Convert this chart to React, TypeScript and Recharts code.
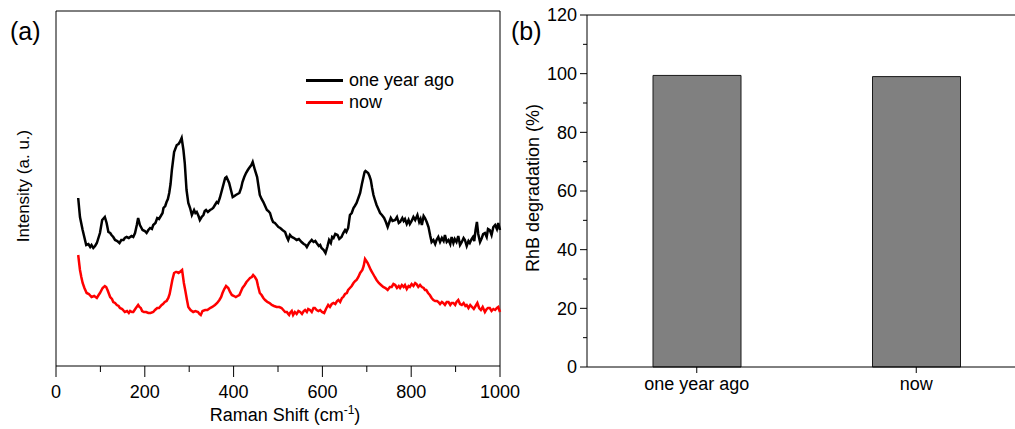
import React from "react";
import { LineChart, Line, XAxis, YAxis, ReferenceLine, Legend, BarChart, Bar } from "recharts";

// (a) Raman spectra, intensity in arbitrary units
const blackShift = [
  50, 54, 60, 68, 73, 77, 80, 84, 88, 92, 99, 104, 110, 114, 118, 122, 125, 129, 133, 138, 143, 147, 152, 155, 159,
  164, 170, 174, 178, 182, 185, 189, 195, 200, 204, 208, 212, 216, 219, 224, 228, 232, 236, 240, 242, 246, 249, 252,
  255, 258, 261, 266, 272, 276, 279, 283, 287, 290, 294, 298, 302, 306, 311, 314, 317, 321, 324, 328, 332, 335, 338,
  342, 347, 351, 354, 358, 362, 365, 369, 375, 381, 384, 390, 394, 398, 402, 405, 409, 413, 417, 420, 424, 428, 432,
  435, 440, 443, 448, 453, 456, 459, 463, 467, 471, 475, 478, 482, 486, 489, 493, 497, 501, 505, 510, 516, 520, 523,
  527, 531, 536, 542, 547, 553, 558, 562, 565, 570, 576, 580, 584, 587, 592, 595, 598, 603, 607, 611, 615, 619, 622,
  625, 629, 634, 638, 643, 647, 651, 654, 658, 662, 666, 670, 673, 677, 681, 685, 689, 692, 695, 697, 700, 703, 706,
  709, 712, 715, 719, 722, 726, 730, 734, 739, 743, 747, 750, 754, 758, 764, 768, 772, 775, 780, 783, 786, 790, 794,
  797, 801, 805, 809, 814, 818, 821, 824, 828, 831, 835, 839, 843, 846, 850, 854, 857, 861, 865, 869, 873, 876, 880,
  884, 888, 891, 895, 898, 902, 906, 910, 914, 918, 921, 925, 929, 932, 936, 939, 942, 945, 948, 951, 955, 959, 962,
  966, 970, 973, 977, 981, 985, 989, 993, 996, 1000,
];
const blackIntensity = [
  168, 149, 136, 121, 122, 119, 121, 118, 120, 123, 133, 146, 149, 143, 134, 133, 131, 129, 126, 125, 123, 126, 126,
  128, 129, 128, 130, 129, 133, 141, 148, 141, 136, 135, 133, 136, 138, 137, 141, 143, 148, 147, 150, 153, 158, 160,
  164, 167, 173, 182, 196, 214, 221, 222, 224, 228, 216, 203, 176, 163, 158, 151, 156, 153, 154, 150, 146, 149, 151,
  155, 156, 154, 156, 157, 158, 161, 164, 163, 168, 178, 188, 189, 183, 176, 169, 170, 171, 172, 173, 178, 184, 189,
  193, 196, 198, 201, 204, 196, 189, 180, 171, 167, 164, 160, 156, 155, 153, 147, 144, 143, 141, 139, 138, 136, 134,
  129, 126, 131, 129, 128, 126, 127, 124, 122, 121, 119, 123, 126, 124, 125, 123, 120, 121, 118, 116, 113, 119, 126,
  123, 129, 128, 132, 131, 127, 129, 133, 136, 134, 138, 151, 153, 158, 160, 163, 168, 173, 182, 188, 194, 195, 194,
  193, 190, 186, 178, 171, 165, 161, 157, 153, 151, 148, 144, 139, 143, 148, 145, 146, 149, 143, 144, 148, 145, 147,
  142, 146, 142, 145, 149, 146, 151, 144, 147, 141, 150, 148, 144, 139, 130, 124, 126, 122, 126, 129, 124, 128, 125,
  131, 124, 126, 122, 129, 123, 127, 124, 130, 121, 124, 128, 126, 120, 125, 123, 127, 129, 125, 136, 144, 132, 124,
  128, 132, 133, 129, 137, 136, 131, 139, 141, 137, 143, 136,
];
const redShift = [
  50, 54, 57, 60, 64, 69, 74, 80, 86, 92, 96, 99, 105, 110, 113, 116, 122, 126, 129, 133, 137, 141, 144, 149, 155,
  160, 164, 167, 171, 174, 177, 180, 185, 188, 191, 194, 198, 203, 208, 213, 219, 223, 228, 232, 238, 241, 245, 249,
  253, 256, 259, 262, 266, 270, 272, 276, 279, 284, 288, 291, 295, 298, 303, 309, 314, 320, 323, 326, 330, 336, 341,
  347, 352, 358, 363, 368, 372, 375, 379, 383, 388, 392, 396, 401, 405, 409, 413, 417, 420, 425, 429, 433, 437, 441,
  444, 448, 452, 455, 459, 463, 467, 471, 476, 481, 486, 491, 497, 503, 508, 512, 516, 520, 523, 525, 527, 531, 534,
  538, 542, 546, 550, 554, 558, 561, 565, 568, 572, 576, 580, 583, 587, 591, 595, 599, 604, 608, 613, 617, 621, 625,
  629, 633, 636, 640, 644, 647, 651, 655, 658, 662, 666, 670, 674, 677, 681, 685, 690, 693, 696, 699, 702, 705, 709,
  713, 718, 722, 727, 732, 737, 742, 747, 752, 756, 760, 764, 768, 772, 775, 779, 783, 786, 790, 794, 797, 801, 805,
  809, 812, 816, 820, 824, 828, 831, 834, 838, 842, 846, 850, 854, 858, 861, 865, 869, 872, 876, 880, 884, 888, 891,
  895, 899, 902, 906, 910, 914, 918, 922, 925, 929, 933, 937, 941, 945, 949, 953, 957, 961, 966, 970, 973, 977, 981,
  985, 989, 993, 996, 1000,
];
const redIntensity = [
  111, 96, 89, 83, 78, 73, 72, 69, 70, 68, 71, 73, 78, 80, 79, 76, 69, 67, 64, 63, 61, 60, 58, 57, 54, 55, 53, 55, 54,
  54, 56, 58, 61, 59, 58, 55, 54, 54, 53, 53, 54, 56, 58, 58, 61, 62, 64, 65, 68, 72, 79, 86, 93, 94, 94, 93, 94, 96,
  83, 76, 66, 59, 56, 54, 55, 54, 52, 51, 55, 56, 56, 58, 59, 61, 63, 66, 69, 73, 77, 80, 78, 74, 71, 70, 69, 70, 71,
  75, 78, 81, 84, 86, 88, 89, 91, 89, 86, 80, 73, 71, 68, 66, 64, 63, 61, 60, 59, 59, 58, 56, 54, 54, 52, 51, 53, 55,
  51, 54, 52, 55, 54, 52, 55, 56, 54, 57, 56, 54, 58, 58, 56, 55, 56, 54, 53, 57, 61, 59, 62, 63, 62, 65, 66, 64, 68,
  69, 72, 73, 76, 78, 80, 83, 85, 86, 89, 93, 96, 100, 107, 105, 103, 100, 96, 93, 89, 86, 83, 81, 79, 78, 76, 79, 79,
  82, 81, 78, 80, 78, 81, 79, 81, 77, 80, 79, 82, 80, 83, 82, 79, 81, 79, 78, 76, 76, 73, 71, 68, 66, 65, 65, 64, 62,
  64, 63, 61, 64, 64, 61, 63, 63, 61, 64, 66, 62, 61, 63, 60, 61, 58, 61, 59, 57, 60, 63, 58, 56, 59, 54, 57, 58, 58,
  55, 57, 56, 58, 59, 54,
];
const ramanTicks = [0, 100, 200, 300, 400, 500, 600, 700, 800, 900, 1000];

// (b) RhB degradation
const categories = ["one year ago", "now"];
const degradation = [99.4, 99.0];
const degradationTicks = [0, 10, 20, 30, 40, 50, 60, 70, 80, 90, 100, 110, 120];

const FONT = '"Liberation Sans", Arial, Helvetica, sans-serif';

const toSeries = (xs: number[], ys: number[]) => xs.map((x, i) => ({ shift: x, value: ys[i] }));
const oneYearAgo = toSeries(blackShift, blackIntensity);
const now = toSeries(redShift, redIntensity);
const barData = categories.map((c, i) => ({ name: c, value: degradation[i] }));

function RamanTick({ x, y, payload }: any) {
  const major = payload.value % 200 === 0;
  return (
    <g>
      <line x1={x} x2={x} y1={y} y2={y + (major ? 11 : 6)} stroke="#000" />
      {major && (
        <text x={x} y={y + 32} textAnchor="middle" fontSize={18} fontFamily={FONT} fill="#000">
          {payload.value}
        </text>
      )}
    </g>
  );
}

function PctTick({ x, y, payload }: any) {
  const major = payload.value % 20 === 0;
  return (
    <g>
      <line x1={x - (major ? 7 : 4)} x2={x} y1={y} y2={y} stroke="#000" />
      {major && (
        <text x={x - 10} y={y} dy="0.36em" textAnchor="end" fontSize={18} fontFamily={FONT} fill="#000">
          {payload.value}
        </text>
      )}
    </g>
  );
}

function CatTick({ x, y, payload }: any) {
  return (
    <g>
      <line x1={x} x2={x} y1={y} y2={y + 6} stroke="#000" />
      <text x={x} y={y + 23} textAnchor="middle" fontSize={18} fontFamily={FONT} fill="#000">
        {payload.value}
      </text>
    </g>
  );
}

function SpectraLegend() {
  const rows = [
    { label: "one year ago", color: "#000" },
    { label: "now", color: "#ff0000" },
  ];
  return (
    <div style={{ fontFamily: FONT, fontSize: 18, color: "#000" }}>
      {rows.map((r) => (
        <div key={r.label} style={{ display: "flex", alignItems: "center", height: 22 }}>
          <span style={{ display: "inline-block", width: 37, height: 3, background: r.color, marginRight: 6 }} />
          <span>{r.label}</span>
        </div>
      ))}
    </div>
  );
}

export default function App() {
  return (
    <div style={{ position: "absolute", left: 0, top: 0, width: 1015, height: 429, overflow: "hidden", background: "#fff" }}>
      <div style={{ position: "absolute", left: 0, top: 0 }}>
        <LineChart width={530} height={429} margin={{ top: 11, right: 30, left: 56, bottom: 13 }}>
          <XAxis
            type="number"
            dataKey="shift"
            domain={[0, 1000]}
            ticks={ramanTicks}
            interval={0}
            height={50}
            axisLine={{ stroke: "#000" }}
            tickLine={false}
            tickSize={0}
            tickMargin={0}
            tick={<RamanTick />}
          />
          <YAxis hide type="number" domain={[0, 355]} />
          <ReferenceLine x={0} stroke="#000" />
          <ReferenceLine x={1000} stroke="#000" />
          <ReferenceLine y={355} stroke="#000" />
          <Legend
            layout="horizontal"
            verticalAlign="middle"
            align="center"
            content={() => <SpectraLegend />}
            wrapperStyle={{ left: 306, top: 69, width: 180, height: 44 }}
          />
          <Line data={oneYearAgo} dataKey="value" name="one year ago" type="linear" stroke="#000" strokeWidth={2.5} dot={false} isAnimationActive={false} />
          <Line data={now} dataKey="value" name="now" type="linear" stroke="#ff0000" strokeWidth={2.5} dot={false} isAnimationActive={false} />
        </LineChart>
      </div>
      <div style={{ position: "absolute", left: 500, top: 0 }}>
        <BarChart width={530} height={429} data={barData} margin={{ top: 15, right: 4, left: 0, bottom: 22 }}>
          <XAxis
            dataKey="name"
            height={40}
            interval={0}
            axisLine={{ stroke: "#000" }}
            tickLine={false}
            tickSize={0}
            tickMargin={0}
            tick={<CatTick />}
          />
          <YAxis
            width={87}
            domain={[0, 120]}
            ticks={degradationTicks}
            interval={0}
            axisLine={{ stroke: "#000" }}
            tickLine={false}
            tickSize={0}
            tickMargin={0}
            tick={<PctTick />}
          />
          <ReferenceLine y={120} stroke="#000" />
          <Bar dataKey="value" fill="#808080" stroke="#1a1a1a" strokeWidth={1} barSize={88} isAnimationActive={false} />
        </BarChart>
      </div>
      <svg width={1015} height={429} style={{ position: "absolute", left: 0, top: 0, pointerEvents: "none" }}>
        <g fontFamily={FONT} fill="#000">
          <text x={10} y={40} fontSize={25}>(a)</text>
          <text x={511} y={40} fontSize={25}>(b)</text>
          <text x={29} y={186} fontSize={17} textAnchor="middle" transform="rotate(-90 29 186)">
            Intensity (a. u.)
          </text>
          <text x={285} y={421} fontSize={18} textAnchor="middle">
            Raman Shift (cm<tspan dy={-7} fontSize={12}>-1</tspan>
            <tspan dy={7}>)</tspan>
          </text>
          <text x={539} y={188} fontSize={18} textAnchor="middle" transform="rotate(-90 539 188)">
            RhB degradation (%)
          </text>
        </g>
      </svg>
    </div>
  );
}
